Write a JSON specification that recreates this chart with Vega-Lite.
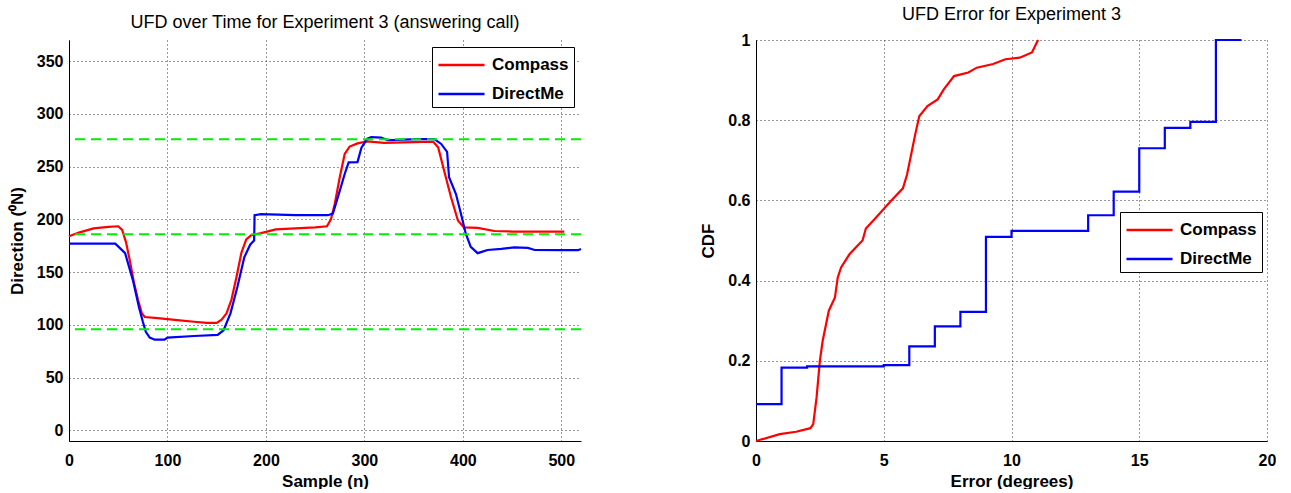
{
  "$schema": "https://vega.github.io/schema/vega-lite/v6.json",
  "padding": {"left": 8, "top": 6, "right": 0, "bottom": 0},
  "spacing": 113,
  "datasets": {
    "ts": [
      {"n": 0, "dir": 184, "series": "Compass"},
      {"n": 10, "dir": 187.5, "series": "Compass"},
      {"n": 25, "dir": 191.5, "series": "Compass"},
      {"n": 40, "dir": 193, "series": "Compass"},
      {"n": 50, "dir": 193.5, "series": "Compass"},
      {"n": 54, "dir": 190, "series": "Compass"},
      {"n": 58, "dir": 178, "series": "Compass"},
      {"n": 62, "dir": 160, "series": "Compass"},
      {"n": 66, "dir": 140, "series": "Compass"},
      {"n": 70, "dir": 124, "series": "Compass"},
      {"n": 74, "dir": 111, "series": "Compass"},
      {"n": 77, "dir": 107.5, "series": "Compass"},
      {"n": 90, "dir": 106.5, "series": "Compass"},
      {"n": 110, "dir": 104.5, "series": "Compass"},
      {"n": 127, "dir": 103, "series": "Compass"},
      {"n": 140, "dir": 102, "series": "Compass"},
      {"n": 150, "dir": 102, "series": "Compass"},
      {"n": 155, "dir": 105, "series": "Compass"},
      {"n": 160, "dir": 111, "series": "Compass"},
      {"n": 165, "dir": 124, "series": "Compass"},
      {"n": 170, "dir": 145, "series": "Compass"},
      {"n": 175, "dir": 168, "series": "Compass"},
      {"n": 180, "dir": 181, "series": "Compass"},
      {"n": 185, "dir": 185, "series": "Compass"},
      {"n": 195, "dir": 187, "series": "Compass"},
      {"n": 210, "dir": 190.5, "series": "Compass"},
      {"n": 230, "dir": 191.5, "series": "Compass"},
      {"n": 250, "dir": 192.5, "series": "Compass"},
      {"n": 262, "dir": 193.5, "series": "Compass"},
      {"n": 266, "dir": 200, "series": "Compass"},
      {"n": 270, "dir": 215, "series": "Compass"},
      {"n": 275, "dir": 240, "series": "Compass"},
      {"n": 280, "dir": 262, "series": "Compass"},
      {"n": 285, "dir": 269, "series": "Compass"},
      {"n": 293, "dir": 272, "series": "Compass"},
      {"n": 303, "dir": 274, "series": "Compass"},
      {"n": 320, "dir": 272.5, "series": "Compass"},
      {"n": 340, "dir": 273, "series": "Compass"},
      {"n": 360, "dir": 273.5, "series": "Compass"},
      {"n": 370, "dir": 273.5, "series": "Compass"},
      {"n": 375, "dir": 268, "series": "Compass"},
      {"n": 381, "dir": 246, "series": "Compass"},
      {"n": 388, "dir": 221, "series": "Compass"},
      {"n": 395, "dir": 199, "series": "Compass"},
      {"n": 401, "dir": 192.5, "series": "Compass"},
      {"n": 415, "dir": 192, "series": "Compass"},
      {"n": 432, "dir": 189, "series": "Compass"},
      {"n": 450, "dir": 188.5, "series": "Compass"},
      {"n": 472, "dir": 188.5, "series": "Compass"},
      {"n": 503, "dir": 188.5, "series": "Compass"},
      {"n": 0, "dir": 177, "series": "DirectMe"},
      {"n": 47, "dir": 177, "series": "DirectMe"},
      {"n": 52, "dir": 172.5, "series": "DirectMe"},
      {"n": 57, "dir": 168, "series": "DirectMe"},
      {"n": 61, "dir": 155, "series": "DirectMe"},
      {"n": 65, "dir": 142, "series": "DirectMe"},
      {"n": 71, "dir": 117, "series": "DirectMe"},
      {"n": 75, "dir": 103, "series": "DirectMe"},
      {"n": 78, "dir": 93.5, "series": "DirectMe"},
      {"n": 82, "dir": 88, "series": "DirectMe"},
      {"n": 87, "dir": 86, "series": "DirectMe"},
      {"n": 97, "dir": 86, "series": "DirectMe"},
      {"n": 100, "dir": 88, "series": "DirectMe"},
      {"n": 127, "dir": 89.5, "series": "DirectMe"},
      {"n": 151, "dir": 90.5, "series": "DirectMe"},
      {"n": 157, "dir": 95, "series": "DirectMe"},
      {"n": 164, "dir": 111, "series": "DirectMe"},
      {"n": 171, "dir": 136, "series": "DirectMe"},
      {"n": 178, "dir": 164, "series": "DirectMe"},
      {"n": 184, "dir": 176, "series": "DirectMe"},
      {"n": 186, "dir": 178, "series": "DirectMe"},
      {"n": 188, "dir": 180, "series": "DirectMe"},
      {"n": 188.5, "dir": 204, "series": "DirectMe"},
      {"n": 195, "dir": 205, "series": "DirectMe"},
      {"n": 230, "dir": 204, "series": "DirectMe"},
      {"n": 263, "dir": 204, "series": "DirectMe"},
      {"n": 268, "dir": 205.5, "series": "DirectMe"},
      {"n": 274, "dir": 224, "series": "DirectMe"},
      {"n": 280, "dir": 243, "series": "DirectMe"},
      {"n": 284, "dir": 254, "series": "DirectMe"},
      {"n": 293, "dir": 254.3, "series": "DirectMe"},
      {"n": 297, "dir": 268, "series": "DirectMe"},
      {"n": 303, "dir": 276.5, "series": "DirectMe"},
      {"n": 307, "dir": 278, "series": "DirectMe"},
      {"n": 317, "dir": 277.5, "series": "DirectMe"},
      {"n": 324, "dir": 275, "series": "DirectMe"},
      {"n": 340, "dir": 275.5, "series": "DirectMe"},
      {"n": 354, "dir": 276, "series": "DirectMe"},
      {"n": 371, "dir": 276, "series": "DirectMe"},
      {"n": 378, "dir": 271.5, "series": "DirectMe"},
      {"n": 384, "dir": 264, "series": "DirectMe"},
      {"n": 386, "dir": 240, "series": "DirectMe"},
      {"n": 393, "dir": 224, "series": "DirectMe"},
      {"n": 398, "dir": 205.5, "series": "DirectMe"},
      {"n": 403, "dir": 186.5, "series": "DirectMe"},
      {"n": 408, "dir": 174, "series": "DirectMe"},
      {"n": 415, "dir": 168, "series": "DirectMe"},
      {"n": 420, "dir": 169.5, "series": "DirectMe"},
      {"n": 425, "dir": 171, "series": "DirectMe"},
      {"n": 439, "dir": 172, "series": "DirectMe"},
      {"n": 452, "dir": 173.5, "series": "DirectMe"},
      {"n": 466, "dir": 173, "series": "DirectMe"},
      {"n": 473, "dir": 171, "series": "DirectMe"},
      {"n": 500, "dir": 170.8, "series": "DirectMe"},
      {"n": 517, "dir": 170.8, "series": "DirectMe"},
      {"n": 520, "dir": 172, "series": "DirectMe"}
    ],
    "refs": [{"ref": 276}, {"ref": 186}, {"ref": 96}],
    "cdf": [
      {"err": 0, "p": 0, "series": "Compass"},
      {"err": 0.93, "p": 0.017, "series": "Compass"},
      {"err": 1.57, "p": 0.023, "series": "Compass"},
      {"err": 2.13, "p": 0.032, "series": "Compass"},
      {"err": 2.24, "p": 0.042, "series": "Compass"},
      {"err": 2.37, "p": 0.108, "series": "Compass"},
      {"err": 2.5, "p": 0.2, "series": "Compass"},
      {"err": 2.61, "p": 0.25, "series": "Compass"},
      {"err": 2.85, "p": 0.325, "series": "Compass"},
      {"err": 3.09, "p": 0.358, "series": "Compass"},
      {"err": 3.2, "p": 0.408, "series": "Compass"},
      {"err": 3.33, "p": 0.433, "series": "Compass"},
      {"err": 3.65, "p": 0.465, "series": "Compass"},
      {"err": 3.97, "p": 0.487, "series": "Compass"},
      {"err": 4.17, "p": 0.5, "series": "Compass"},
      {"err": 4.3, "p": 0.53, "series": "Compass"},
      {"err": 4.78, "p": 0.563, "series": "Compass"},
      {"err": 5.26, "p": 0.597, "series": "Compass"},
      {"err": 5.75, "p": 0.63, "series": "Compass"},
      {"err": 5.91, "p": 0.664, "series": "Compass"},
      {"err": 6.07, "p": 0.714, "series": "Compass"},
      {"err": 6.23, "p": 0.764, "series": "Compass"},
      {"err": 6.39, "p": 0.81, "series": "Compass"},
      {"err": 6.71, "p": 0.835, "series": "Compass"},
      {"err": 7.11, "p": 0.852, "series": "Compass"},
      {"err": 7.35, "p": 0.877, "series": "Compass"},
      {"err": 7.75, "p": 0.91, "series": "Compass"},
      {"err": 8.31, "p": 0.919, "series": "Compass"},
      {"err": 8.64, "p": 0.931, "series": "Compass"},
      {"err": 9.28, "p": 0.94, "series": "Compass"},
      {"err": 9.76, "p": 0.952, "series": "Compass"},
      {"err": 10.32, "p": 0.956, "series": "Compass"},
      {"err": 10.8, "p": 0.969, "series": "Compass"},
      {"err": 11.04, "p": 1.0, "series": "Compass"},
      {"err": 0, "p": 0.092, "series": "DirectMe"},
      {"err": 1, "p": 0.183, "series": "DirectMe"},
      {"err": 2, "p": 0.186, "series": "DirectMe"},
      {"err": 5, "p": 0.189, "series": "DirectMe"},
      {"err": 6, "p": 0.236, "series": "DirectMe"},
      {"err": 7, "p": 0.286, "series": "DirectMe"},
      {"err": 8, "p": 0.322, "series": "DirectMe"},
      {"err": 9, "p": 0.509, "series": "DirectMe"},
      {"err": 10, "p": 0.524, "series": "DirectMe"},
      {"err": 13, "p": 0.563, "series": "DirectMe"},
      {"err": 14, "p": 0.622, "series": "DirectMe"},
      {"err": 15, "p": 0.73, "series": "DirectMe"},
      {"err": 16, "p": 0.781, "series": "DirectMe"},
      {"err": 17, "p": 0.796, "series": "DirectMe"},
      {"err": 18, "p": 1.0, "series": "DirectMe"},
      {"err": 19, "p": 1.0, "series": "DirectMe"}
    ]
  },
  "resolve": {"scale": {"color": "independent"}, "legend": {"color": "independent"}},
  "hconcat": [
    {
      "width": 512,
      "height": 401,
      "title": "UFD over Time for Experiment 3 (answering call)",
      "layer": [
        {
          "data": {"name": "ts"},
          "mark": {"type": "line", "strokeWidth": 2.2},
          "encoding": {
            "x": {"field": "n", "type": "quantitative", "scale": {"domain": [0, 520], "nice": false, "zero": false}, "axis": {"values": [0, 100, 200, 300, 400, 500], "title": "Sample (n)"}},
            "y": {"field": "dir", "type": "quantitative", "scale": {"domain": [-10, 370], "nice": false, "zero": false}, "axis": {"values": [0, 50, 100, 150, 200, 250, 300, 350], "title": "Direction (⁰N)", "titlePadding": 10}},
            "color": {"field": "series", "type": "nominal", "scale": {"domain": ["Compass", "DirectMe"], "range": ["#ff0000", "#0000ff"]}, "legend": {"title": null, "orient": "top-right", "offset": 7}}
          }
        },
        {
          "data": {"name": "refs"},
          "mark": {"type": "rule", "color": "#00ee00", "strokeWidth": 2, "strokeDash": [10, 6]},
          "encoding": {"y": {"field": "ref", "type": "quantitative"}}
        }
      ]
    },
    {
      "width": 511,
      "height": 401,
      "title": "UFD Error for Experiment 3",
      "data": {"name": "cdf"},
      "encoding": {
        "x": {"field": "err", "type": "quantitative", "scale": {"domain": [0, 20], "nice": false}, "axis": {"values": [0, 5, 10, 15, 20], "title": "Error (degrees)"}},
        "y": {"field": "p", "type": "quantitative", "scale": {"domain": [0, 1], "nice": false}, "axis": {"values": [0, 0.2, 0.4, 0.6, 0.8, 1], "format": "~g", "title": "CDF", "titlePadding": 10}},
        "color": {"field": "series", "type": "nominal", "scale": {"domain": ["Compass", "DirectMe"], "range": ["#ff0000", "#0000ff"]}, "legend": {"title": null, "orient": "none", "legendX": 364, "legendY": 172}}
      },
      "layer": [
        {"transform": [{"filter": "datum.series === 'Compass'"}], "mark": {"type": "line", "strokeWidth": 2.2}},
        {"transform": [{"filter": "datum.series === 'DirectMe'"}], "mark": {"type": "line", "strokeWidth": 2.2, "interpolate": "step-after"}}
      ]
    }
  ],
  "config": {
    "font": "Liberation Sans",
    "view": {"stroke": null},
    "axis": {
      "domainColor": "black",
      "domainWidth": 1,
      "grid": true,
      "gridColor": "#333333",
      "gridDash": [1, 3],
      "gridWidth": 1,
      "ticks": false,
      "labelFlush": false,
      "labelFontSize": 16,
      "labelFontWeight": "bold",
      "labelColor": "black",
      "labelPadding": 6,
      "titleFontSize": 17,
      "titleFontWeight": "bold",
      "titleColor": "black",
      "titlePadding": 5
    },
    "axisX": {"labelPadding": 11},
    "title": {"fontSize": 18, "fontWeight": "normal", "color": "black", "offset": 8},
    "legend": {
      "strokeColor": "black",
      "fillColor": "white",
      "padding": 5,
      "symbolType": "M-1,0H3",
      "symbolSize": 530,
      "symbolStrokeWidth": 2.5,
      "symbolFillColor": "transparent",
      "labelFontSize": 17,
      "labelFontWeight": "bold",
      "labelColor": "black",
      "labelOffset": 29,
      "rowPadding": 8
    }
  }
}
